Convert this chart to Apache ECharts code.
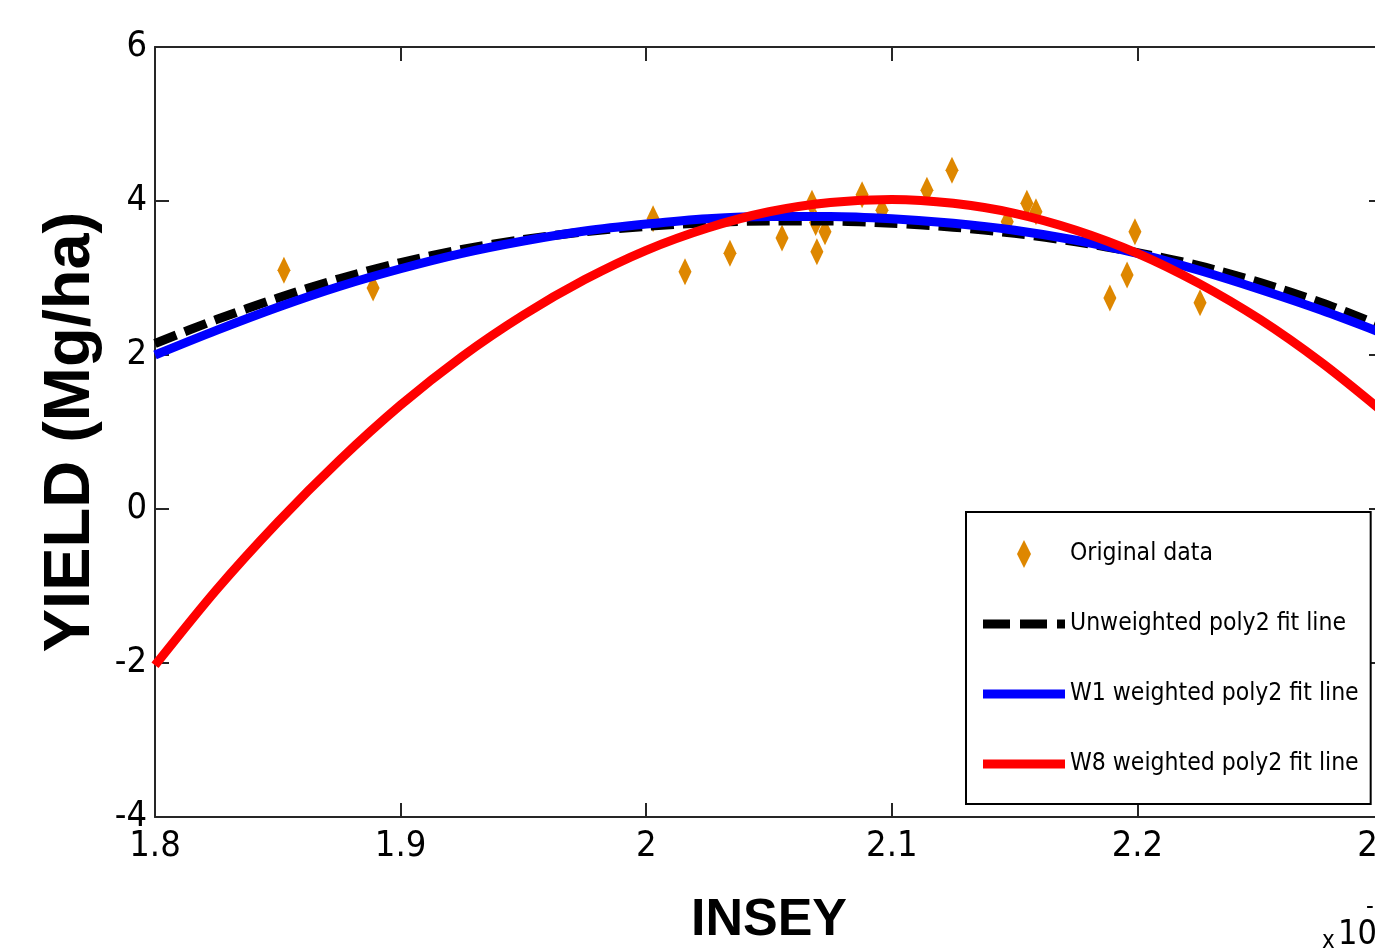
<!DOCTYPE html>
<html>
<head>
<meta charset="utf-8">
<script src="https://cdn.jsdelivr.net/npm/echarts@6/dist/echarts.min.js"></script>
<style>
html,body{margin:0;padding:0;background:#fff;}
#chart{width:1375px;height:950px;}
</style>
</head>
<body>
<div id="chart"></div>
<script>
// ---- data (x in units of 1e-3) ----
const xTicks = [1.8, 1.9, 2.0, 2.1, 2.2, 2.3];
const yTicks = [-4, -2, 0, 2, 4, 6];

const dataX = [1.8525, 1.8888, 2.0028, 2.0158, 2.0341, 2.0553, 2.0675, 2.0690, 2.0728, 2.0695, 2.0879,
               2.0960, 2.1143, 2.1245, 2.1470, 2.1550, 2.1587, 2.1990, 2.1958, 2.1888, 2.2255];
const dataY = [3.10, 2.87, 3.77, 3.08, 3.32, 3.52, 3.97, 3.72, 3.60, 3.34, 4.08,
               3.88, 4.14, 4.40, 3.73, 3.97, 3.86, 3.60, 3.04, 2.74, 2.68];

const fitX = [1.8, 1.825, 1.85, 1.875, 1.9, 1.925, 1.95, 1.975, 2.0, 2.025, 2.05,
              2.075, 2.1, 2.125, 2.15, 2.175, 2.2, 2.225, 2.25, 2.275, 2.3];
const unweighted = [2.15, 2.46, 2.74, 2.99, 3.20, 3.37, 3.50, 3.60, 3.67, 3.72, 3.74,
                    3.74, 3.71, 3.66, 3.58, 3.47, 3.33, 3.16, 2.94, 2.68, 2.37];
const w1 = [2.00, 2.32, 2.62, 2.89, 3.12, 3.32, 3.48, 3.61, 3.70, 3.77, 3.80,
            3.80, 3.77, 3.71, 3.62, 3.49, 3.32, 3.10, 2.85, 2.58, 2.28];
const w8 = [-2.03, -1.05, -0.17, 0.63, 1.35, 1.98, 2.52, 2.98, 3.36, 3.65, 3.86,
            3.98, 4.02, 3.97, 3.84, 3.62, 3.32, 2.93, 2.46, 1.90, 1.26];

const seriesNames = ['Original data', 'Unweighted poly2 fit line', 'W1 weighted poly2 fit line', 'W8 weighted poly2 fit line'];

// ---- build ----
const zip = (xs, ys) => xs.map((x, i) => [x, ys[i]]);
const NARROW = "'Liberation Sans Narrow','DejaVu Sans Condensed',sans-serif";
const AXC = '#262626';

const chart = echarts.init(document.getElementById('chart'), null, {renderer: 'canvas'});

const baseX = {
  type: 'value', min: xTicks[0], max: xTicks[xTicks.length - 1], interval: 0.1,
  splitLine: {show: false},
  axisLine: {show: true, onZero: false, lineStyle: {color: AXC, width: 2}},
  axisTick: {show: true, inside: true, length: 14, lineStyle: {color: AXC, width: 2}}
};
const baseY = {
  type: 'value', min: yTicks[0], max: yTicks[yTicks.length - 1], interval: 2,
  splitLine: {show: false},
  axisLine: {show: true, onZero: false, lineStyle: {color: AXC, width: 2}},
  axisTick: {show: true, inside: true, length: 14, lineStyle: {color: AXC, width: 2}}
};

const LINE_ICON = 'path://M0,0H82V9H0Z';
const DASH_ICON = 'path://M0,0H27V9H0ZM37,0H64V9H37ZM74,0H82V9H74Z';

chart.setOption({
  animation: false,
  backgroundColor: '#fff',
  grid: {left: 155, top: 47, width: 1228, height: 770, containLabel: false, outerBoundsMode: 'none'},
  xAxis: [
    Object.assign({}, baseX, {
      position: 'bottom',
      name: 'INSEY', nameLocation: 'middle', nameGap: 78,
      nameTextStyle: {fontFamily: 'Liberation Sans', fontWeight: 'bold', fontSize: 52, color: '#000'},
      axisLabel: {show: true, margin: 12, fontFamily: NARROW, fontSize: 36, color: '#000'}
    }),
    Object.assign({}, baseX, {position: 'top', axisLabel: {show: false}})
  ],
  yAxis: [
    Object.assign({}, baseY, {
      position: 'left',
      name: 'YIELD (Mg/ha)', nameLocation: 'middle', nameGap: 51, nameRotate: 90,
      nameTextStyle: {fontFamily: 'Liberation Sans', fontWeight: 'bold', fontSize: 65, color: '#000'},
      axisLabel: {show: true, margin: 8, fontFamily: NARROW, fontSize: 36, color: '#000'}
    }),
    Object.assign({}, baseY, {position: 'right', axisLabel: {show: false}})
  ],
  legend: {
    orient: 'vertical', left: 966, top: 512,
    padding: [27, 12, 25, 17],
    backgroundColor: '#fff', borderColor: '#000', borderWidth: 2, borderRadius: 0,
    itemWidth: 82, itemHeight: 28, itemGap: 40,
    textStyle: {fontFamily: NARROW, fontSize: 24.5, lineHeight: 30, color: '#000'},
    data: [
      {name: seriesNames[0], icon: 'path://M5,0L10,10L5,20L0,10Z', itemStyle: {color: '#de8700', borderWidth: 0}},
      {name: seriesNames[1], icon: DASH_ICON, itemStyle: {color: '#000', borderWidth: 0}},
      {name: seriesNames[2], icon: LINE_ICON, itemStyle: {color: '#0000ff', borderWidth: 0}},
      {name: seriesNames[3], icon: LINE_ICON, itemStyle: {color: '#ff0000', borderWidth: 0}}
    ]
  },
  graphic: [
    {type: 'text', left: 1322, top: 930, style: {text: 'x', font: "24px " + NARROW, fill: '#000'}},
    {type: 'text', left: 1338, top: 918, style: {text: '10', font: "34px " + NARROW, fill: '#000'}},
    {type: 'text', left: 1366, top: 896, style: {text: '-3', font: "24px " + NARROW, fill: '#000'}}
  ],
  series: [
    {
      name: seriesNames[0], type: 'scatter', data: zip(dataX, dataY),
      symbol: 'diamond', symbolSize: [13, 27],
      itemStyle: {color: '#de8700', opacity: 1}, z: 2
    },
    {
      name: seriesNames[1], type: 'line', data: zip(fitX, unweighted), smooth: 0.3,
      symbol: 'none', lineStyle: {color: '#000', width: 9, type: [23, 9], cap: 'butt'},
      itemStyle: {color: '#000'}, z: 3
    },
    {
      name: seriesNames[2], type: 'line', data: zip(fitX, w1), smooth: 0.3,
      symbol: 'none', lineStyle: {color: '#0000ff', width: 9},
      itemStyle: {color: '#0000ff'}, z: 4
    },
    {
      name: seriesNames[3], type: 'line', data: zip(fitX, w8), smooth: 0.3,
      symbol: 'none', lineStyle: {color: '#ff0000', width: 9},
      itemStyle: {color: '#ff0000'}, z: 5
    }
  ]
});
</script>
</body>
</html>
